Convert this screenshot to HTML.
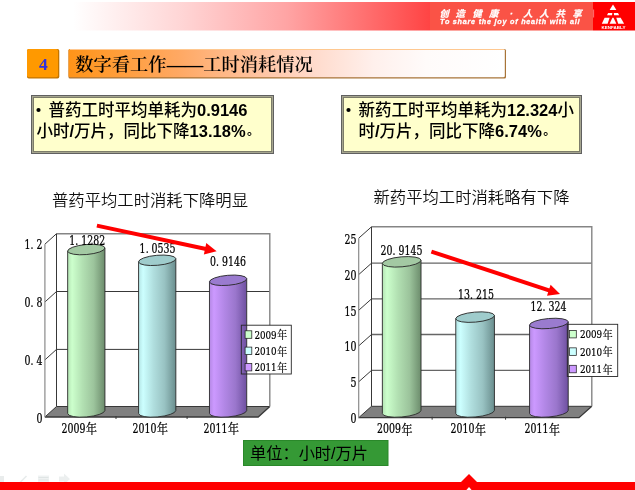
<!DOCTYPE html>
<html><head><meta charset="utf-8">
<style>
html,body{margin:0;padding:0;background:#fff;}
body{width:635px;height:490px;overflow:hidden;position:relative;}
svg{position:absolute;left:0;top:0;}
.cn{font-family:"Liberation Sans","Noto Sans CJK SC",sans-serif;}
.sr{font-family:"Liberation Serif","Noto Serif CJK SC",serif;}
.sm{font-family:"DejaVu Serif","Noto Serif CJK SC",serif;font-stretch:condensed;}
.sc{font-family:"Noto Serif CJK SC",serif;}
</style></head>
<body>
<svg width="635" height="490" viewBox="0 0 635 490">
<defs>
  <linearGradient id="hdr" x1="0" x2="1" y1="0" y2="0">
    <stop offset="0" stop-color="#ffffff"/>
    <stop offset="0.3" stop-color="#ffd6d6"/>
    <stop offset="0.6" stop-color="#ffa4a4"/>
    <stop offset="1" stop-color="#ff4444"/>
  </linearGradient>
  <linearGradient id="ttl" x1="0" x2="1" y1="0" y2="0">
    <stop offset="0" stop-color="#ff9418"/>
    <stop offset="0.25" stop-color="#ffa862"/>
    <stop offset="0.45" stop-color="#ffc6a6"/>
    <stop offset="0.56" stop-color="#ffdacb"/>
    <stop offset="0.7" stop-color="#fff0ec"/>
    <stop offset="0.82" stop-color="#fffbfa"/>
    <stop offset="1" stop-color="#ffffff"/>
  </linearGradient>
  <linearGradient id="g1" x1="0" x2="1" y1="0" y2="0">
    <stop offset="0" stop-color="#b4e4b4"/>
    <stop offset="0.12" stop-color="#ccffcc"/>
    <stop offset="0.4" stop-color="#b2e0b2"/>
    <stop offset="0.7" stop-color="#9cc49c"/>
    <stop offset="1" stop-color="#6c8c6c"/>
  </linearGradient>
  <linearGradient id="g2" x1="0" x2="1" y1="0" y2="0">
    <stop offset="0" stop-color="#b4e4e4"/>
    <stop offset="0.12" stop-color="#ccffff"/>
    <stop offset="0.4" stop-color="#b0dede"/>
    <stop offset="0.7" stop-color="#98c2c2"/>
    <stop offset="1" stop-color="#6a8e8e"/>
  </linearGradient>
  <linearGradient id="g3" x1="0" x2="1" y1="0" y2="0">
    <stop offset="0" stop-color="#b488e4"/>
    <stop offset="0.12" stop-color="#cc99ff"/>
    <stop offset="0.4" stop-color="#b287e6"/>
    <stop offset="0.7" stop-color="#9a76cc"/>
    <stop offset="1" stop-color="#6e50a0"/>
  </linearGradient>
</defs>

<!-- header band -->
<rect x="73" y="2" width="357" height="28.5" fill="url(#hdr)"/>
<rect x="430" y="2" width="163" height="28.5" fill="#fa5346"/>
<rect x="593" y="2" width="42" height="28.5" fill="#ff0000"/>
<rect x="593.2" y="9.5" width="0.9" height="8" fill="#fff" opacity="0.5"/>
<text y="17.2" fill="#fff" stroke="#fff" stroke-width="0.25" font-size="9.3" font-style="italic" font-weight="bold" class="cn"><tspan x="439.6">创</tspan><tspan x="455.6">造</tspan><tspan x="472.4">健</tspan><tspan x="489">康</tspan><tspan x="509.8">·</tspan><tspan x="523.2">人</tspan><tspan x="539.4">人</tspan><tspan x="555.4">共</tspan><tspan x="572.6">享</tspan></text>
<text x="440" y="24.3" fill="#fff" stroke="#fff" stroke-width="0.3" font-size="7.2" font-style="italic" font-weight="bold" class="cn" textLength="139.5" lengthAdjust="spacing">To share the joy of health with all</text>
<!-- logo -->
<g fill="#fff">
  <polygon points="613,4.6 616.4,10 609.6,10"/>
  <polygon points="608.1,12.9 612.3,12.9 612,15.2 607,15.2"/>
  <polygon points="613.8,12.9 618,12.9 619.1,15.2 614.1,15.2"/>
  <polygon points="604.6,17.8 609.6,17.8 607.6,23.8 601.8,23.8"/>
  <polygon points="612.4,17.8 613.5,17.8 616.4,23.8 609.6,23.8"/>
  <polygon points="616.3,17.8 620.7,17.8 624.1,23.8 618.2,23.8"/>
</g>
<text x="601.5" y="28.9" fill="#fff" font-size="4" class="cn" font-weight="bold" textLength="24" lengthAdjust="spacingAndGlyphs">KENFABLY</text>

<!-- number box -->
<rect x="27" y="49" width="32.3" height="29.6" rx="1.8" fill="#c27400"/>
<rect x="27" y="49" width="31" height="28.2" rx="1.8" fill="#ff9900"/>
<text x="43.3" y="69.8" fill="#3030dd" font-size="17.5" font-weight="bold" text-anchor="middle" class="sr">4</text>

<!-- title box -->
<rect x="68.5" y="49" width="437.5" height="29.4" rx="1.5" fill="#a87438"/>
<rect x="68.5" y="49" width="436.3" height="28.2" rx="1.5" fill="url(#ttl)"/>
<rect x="70" y="49" width="434" height="1" fill="#ffc890"/>
<text x="75.3" y="70.8" fill="#000" font-size="18" font-weight="600" class="sr" textLength="237.5" lengthAdjust="spacingAndGlyphs">数字看工作——工时消耗情况</text>

<!-- text boxes -->
<rect x="31.5" y="95.5" width="242" height="58" fill="#ffffcc" stroke="#606060" stroke-width="1"/>
<rect x="32.5" y="96.5" width="240" height="56" fill="none" stroke="#a6a690" stroke-width="1"/>
<rect x="33.5" y="97.5" width="238" height="54" fill="none" stroke="#7c7c6a" stroke-width="1"/>
<rect x="341.5" y="95.5" width="240" height="58" fill="#ffffcc" stroke="#606060" stroke-width="1"/>
<rect x="342.5" y="96.5" width="238" height="56" fill="none" stroke="#a6a690" stroke-width="1"/>
<rect x="343.5" y="97.5" width="236" height="54" fill="none" stroke="#7c7c6a" stroke-width="1"/>

<g class="cn" font-size="16.5" fill="#000" font-weight="500">
  <circle cx="38.5" cy="110" r="2.1" fill="#000"/>
  <text x="48.5" y="116.3">普药工时平均单耗为<tspan font-weight="bold">0.9146</tspan></text>
  <text x="36.5" y="136.8">小时<tspan font-weight="bold">/</tspan>万片，同比下降<tspan font-weight="bold">13.18%</tspan><tspan font-size="12.5" font-weight="bold" dx="1.4" dy="-1.8">。</tspan></text>
  <circle cx="348.5" cy="110" r="2.1" fill="#000"/>
  <text x="358.5" y="116.3">新药工时平均单耗为<tspan font-weight="bold">12.324</tspan>小</text>
  <text x="358.5" y="136.8">时<tspan font-weight="bold">/</tspan>万片，同比下降<tspan font-weight="bold">6.74%</tspan><tspan font-size="12.5" font-weight="bold" dx="1.4" dy="-1.8">。</tspan></text>
</g>

<!-- chart titles -->
<g class="cn" font-size="16" fill="#111" font-weight="350">
  <text x="52" y="205.9" textLength="196" lengthAdjust="spacingAndGlyphs">普药平均工时消耗下降明显</text>
  <text x="373.5" y="202.5" textLength="196" lengthAdjust="spacingAndGlyphs">新药平均工时消耗略有下降</text>
</g>

<!-- CHARTS -->
<polygon points="44.9,417.0 56.5,406.5 269.8,406.5 258.2,417.0" fill="#808080"/>
<polyline points="44.9,417.0 56.5,406.5 269.8,406.5" fill="none" stroke="#383838" stroke-width="1"/>
<polyline points="44.9,417.0 258.2,417.0 269.8,406.5" fill="none" stroke="#383838" stroke-width="1.3"/>
<line x1="56.5" y1="291.5" x2="269.8" y2="291.5" stroke="#383838" stroke-width="1"/>
<line x1="44.9" y1="302.0" x2="56.5" y2="291.5" stroke="#383838" stroke-width="1"/>
<line x1="56.5" y1="349.4" x2="269.8" y2="349.4" stroke="#383838" stroke-width="1"/>
<line x1="44.9" y1="359.9" x2="56.5" y2="349.4" stroke="#383838" stroke-width="1"/>
<line x1="44.9" y1="244.2" x2="56.5" y2="233.7" stroke="#383838" stroke-width="1"/>
<polyline points="56.5,233.7 269.8,233.7 269.8,406.5" fill="none" stroke="#858585" stroke-width="1.4"/>
<line x1="56.5" y1="233.7" x2="56.5" y2="406.5" stroke="#383838" stroke-width="1"/>
<line x1="44.9" y1="244.2" x2="44.9" y2="417.0" stroke="#8a8a8a" stroke-width="1.2"/>
<line x1="116.00" y1="416.0" x2="116.00" y2="419.0" stroke="#383838" stroke-width="1"/>
<line x1="187.10" y1="416.0" x2="187.10" y2="419.0" stroke="#383838" stroke-width="1"/>
<text transform="scale(0.87,1)" text-anchor="middle" class="sm" font-size="12.0" fill="#000" stroke="#000" stroke-width="0.22" ><tspan x="31.61" y="249.30">1</tspan><tspan x="36.90" y="249.30">.</tspan><tspan x="45.40" y="249.30">2</tspan></text>
<text transform="scale(0.87,1)" text-anchor="middle" class="sm" font-size="12.0" fill="#000" stroke="#000" stroke-width="0.22" ><tspan x="31.61" y="307.30">0</tspan><tspan x="36.90" y="307.30">.</tspan><tspan x="45.40" y="307.30">8</tspan></text>
<text transform="scale(0.87,1)" text-anchor="middle" class="sm" font-size="12.0" fill="#000" stroke="#000" stroke-width="0.22" ><tspan x="31.61" y="365.20">0</tspan><tspan x="36.90" y="365.20">.</tspan><tspan x="45.40" y="365.20">4</tspan></text>
<text transform="scale(0.87,1)" text-anchor="middle" class="sm" font-size="12.0" fill="#000" stroke="#000" stroke-width="0.22" ><tspan x="45.40" y="423.30">0</tspan></text>
<rect x="241.3" y="325.2" width="50" height="48.8" fill="#fff"/>
<path d="M67.67,251.05 L67.67,413.51 A18.70,5.0 -5 0 0 104.93,410.49 L104.93,248.03 Z" fill="url(#g1)" stroke="#2a2a2a" stroke-width="0.9"/>
<ellipse cx="86.30" cy="249.54" rx="18.70" ry="5.0" transform="rotate(-5 86.30 249.54)" fill="#a3c9a3" stroke="#2a2a2a" stroke-width="0.9"/>
<path d="M138.57,261.81 L138.57,413.51 A18.70,5.0 -5 0 0 175.83,410.49 L175.83,258.78 Z" fill="url(#g2)" stroke="#2a2a2a" stroke-width="0.9"/>
<ellipse cx="157.20" cy="260.30" rx="18.70" ry="5.0" transform="rotate(-5 157.20 260.30)" fill="#9fcccc" stroke="#2a2a2a" stroke-width="0.9"/>
<path d="M209.47,281.81 L209.47,413.51 A18.70,5.0 -5 0 0 246.73,410.49 L246.73,278.78 Z" fill="url(#g3)" stroke="#2a2a2a" stroke-width="0.9"/>
<ellipse cx="228.10" cy="280.30" rx="18.70" ry="5.0" transform="rotate(-5 228.10 280.30)" fill="#9a7bcf" stroke="#2a2a2a" stroke-width="0.9"/>
<text transform="scale(0.87,1)" text-anchor="middle" class="sm" font-size="12.0" fill="#000" stroke="#000" stroke-width="0.22" ><tspan x="82.99" y="244.60">1</tspan><tspan x="88.28" y="244.60">.</tspan><tspan x="96.78" y="244.60">1</tspan><tspan x="103.68" y="244.60">2</tspan><tspan x="110.57" y="244.60">8</tspan><tspan x="117.47" y="244.60">2</tspan></text>
<text transform="scale(0.87,1)" text-anchor="middle" class="sm" font-size="12.0" fill="#000" stroke="#000" stroke-width="0.22" ><tspan x="74.14" y="432.60">2</tspan><tspan x="81.03" y="432.60">0</tspan><tspan x="87.93" y="432.60">0</tspan><tspan x="94.83" y="432.60">9</tspan><tspan x="105.17" y="433.30" font-size="12.6" class="sc">年</tspan></text>
<text transform="scale(0.87,1)" text-anchor="middle" class="sm" font-size="12.0" fill="#000" stroke="#000" stroke-width="0.22" ><tspan x="163.91" y="253.20">1</tspan><tspan x="169.20" y="253.20">.</tspan><tspan x="177.70" y="253.20">0</tspan><tspan x="184.60" y="253.20">5</tspan><tspan x="191.49" y="253.20">3</tspan><tspan x="198.39" y="253.20">5</tspan></text>
<text transform="scale(0.87,1)" text-anchor="middle" class="sm" font-size="12.0" fill="#000" stroke="#000" stroke-width="0.22" ><tspan x="155.75" y="432.60">2</tspan><tspan x="162.64" y="432.60">0</tspan><tspan x="169.54" y="432.60">1</tspan><tspan x="176.44" y="432.60">0</tspan><tspan x="186.78" y="433.30" font-size="12.6" class="sc">年</tspan></text>
<text transform="scale(0.87,1)" text-anchor="middle" class="sm" font-size="12.0" fill="#000" stroke="#000" stroke-width="0.22" ><tspan x="244.83" y="266.20">0</tspan><tspan x="250.11" y="266.20">.</tspan><tspan x="258.62" y="266.20">9</tspan><tspan x="265.52" y="266.20">1</tspan><tspan x="272.41" y="266.20">4</tspan><tspan x="279.31" y="266.20">6</tspan></text>
<text transform="scale(0.87,1)" text-anchor="middle" class="sm" font-size="12.0" fill="#000" stroke="#000" stroke-width="0.22" ><tspan x="237.36" y="432.60">2</tspan><tspan x="244.25" y="432.60">0</tspan><tspan x="251.15" y="432.60">1</tspan><tspan x="258.05" y="432.60">1</tspan><tspan x="268.39" y="433.30" font-size="12.6" class="sc">年</tspan></text>
<rect x="241.3" y="325.2" width="50" height="48.8" fill="none" stroke="#262626" stroke-width="0.9"/>
<rect x="245.10" y="330.80" width="6.7" height="7.5" fill="#ccffcc" stroke="#222" stroke-width="0.75"/>
<text transform="scale(0.87,1)" text-anchor="middle" class="sm" font-size="11.2" fill="#000" stroke="#000" stroke-width="0.2"><tspan x="295.80" y="338.90">2</tspan><tspan x="302.13" y="338.90">0</tspan><tspan x="308.45" y="338.90">0</tspan><tspan x="314.77" y="338.90">9</tspan><tspan x="324.25" y="339.40" font-size="11.4" class="sc">年</tspan></text>
<rect x="245.10" y="347.10" width="6.7" height="7.5" fill="#ccffff" stroke="#222" stroke-width="0.75"/>
<text transform="scale(0.87,1)" text-anchor="middle" class="sm" font-size="11.2" fill="#000" stroke="#000" stroke-width="0.2"><tspan x="295.80" y="355.20">2</tspan><tspan x="302.13" y="355.20">0</tspan><tspan x="308.45" y="355.20">1</tspan><tspan x="314.77" y="355.20">0</tspan><tspan x="324.25" y="355.70" font-size="11.4" class="sc">年</tspan></text>
<rect x="245.10" y="363.40" width="6.7" height="7.5" fill="#cc99ff" stroke="#222" stroke-width="0.75"/>
<text transform="scale(0.87,1)" text-anchor="middle" class="sm" font-size="11.2" fill="#000" stroke="#000" stroke-width="0.2"><tspan x="295.80" y="371.50">2</tspan><tspan x="302.13" y="371.50">0</tspan><tspan x="308.45" y="371.50">1</tspan><tspan x="314.77" y="371.50">1</tspan><tspan x="324.25" y="372.00" font-size="11.4" class="sc">年</tspan></text>
<line x1="96.9" y1="225.6" x2="206.04" y2="248.94" stroke="#ff0000" stroke-width="4"/>
<polygon points="216.6,251.2 203.85,254.40 206.27,243.06" fill="#ff0000"/>
<polygon points="358.7,417.7 371.5,406.3 591.8,406.3 579.0,417.7" fill="#808080"/>
<polyline points="358.7,417.7 371.5,406.3 591.8,406.3" fill="none" stroke="#383838" stroke-width="1"/>
<polyline points="358.7,417.7 579.0,417.7 591.8,406.3" fill="none" stroke="#383838" stroke-width="1.3"/>
<line x1="371.5" y1="263.2" x2="591.8" y2="263.2" stroke="#666" stroke-width="1.3"/>
<line x1="358.7" y1="274.59999999999997" x2="371.5" y2="263.2" stroke="#383838" stroke-width="1"/>
<line x1="371.5" y1="298.9" x2="591.8" y2="298.9" stroke="#666" stroke-width="1.3"/>
<line x1="358.7" y1="310.29999999999995" x2="371.5" y2="298.9" stroke="#383838" stroke-width="1"/>
<line x1="371.5" y1="334.5" x2="591.8" y2="334.5" stroke="#666" stroke-width="1.3"/>
<line x1="358.7" y1="345.9" x2="371.5" y2="334.5" stroke="#383838" stroke-width="1"/>
<line x1="371.5" y1="370.4" x2="591.8" y2="370.4" stroke="#666" stroke-width="1.3"/>
<line x1="358.7" y1="381.79999999999995" x2="371.5" y2="370.4" stroke="#383838" stroke-width="1"/>
<line x1="358.7" y1="238.20000000000002" x2="371.5" y2="226.8" stroke="#383838" stroke-width="1"/>
<polyline points="371.5,226.8 591.8,226.8 591.8,406.3" fill="none" stroke="#858585" stroke-width="1.4"/>
<line x1="371.5" y1="226.8" x2="371.5" y2="406.3" stroke="#383838" stroke-width="1"/>
<line x1="358.7" y1="238.20000000000002" x2="358.7" y2="417.7" stroke="#8a8a8a" stroke-width="1.2"/>
<line x1="432.13" y1="416.7" x2="432.13" y2="419.7" stroke="#383838" stroke-width="1"/>
<line x1="505.57" y1="416.7" x2="505.57" y2="419.7" stroke="#383838" stroke-width="1"/>
<text transform="scale(0.87,1)" text-anchor="middle" class="sm" font-size="12.0" fill="#000" stroke="#000" stroke-width="0.22" ><tspan x="399.43" y="244.30">2</tspan><tspan x="406.32" y="244.30">5</tspan></text>
<text transform="scale(0.87,1)" text-anchor="middle" class="sm" font-size="12.0" fill="#000" stroke="#000" stroke-width="0.22" ><tspan x="399.43" y="280.00">2</tspan><tspan x="406.32" y="280.00">0</tspan></text>
<text transform="scale(0.87,1)" text-anchor="middle" class="sm" font-size="12.0" fill="#000" stroke="#000" stroke-width="0.22" ><tspan x="399.43" y="315.70">1</tspan><tspan x="406.32" y="315.70">5</tspan></text>
<text transform="scale(0.87,1)" text-anchor="middle" class="sm" font-size="12.0" fill="#000" stroke="#000" stroke-width="0.22" ><tspan x="399.43" y="351.50">1</tspan><tspan x="406.32" y="351.50">0</tspan></text>
<text transform="scale(0.87,1)" text-anchor="middle" class="sm" font-size="12.0" fill="#000" stroke="#000" stroke-width="0.22" ><tspan x="406.32" y="387.20">5</tspan></text>
<text transform="scale(0.87,1)" text-anchor="middle" class="sm" font-size="12.0" fill="#000" stroke="#000" stroke-width="0.22" ><tspan x="406.32" y="422.90">0</tspan></text>
<rect x="567.3" y="324.3" width="50.4" height="52.2" fill="#fff"/>
<path d="M382.37,263.41 L382.37,413.58 A19.40,5.0 -5 0 0 421.03,410.42 L421.03,260.26 Z" fill="url(#g1)" stroke="#2a2a2a" stroke-width="0.9"/>
<ellipse cx="401.70" cy="261.83" rx="19.40" ry="5.0" transform="rotate(-5 401.70 261.83)" fill="#a3c9a3" stroke="#2a2a2a" stroke-width="0.9"/>
<path d="M455.77,318.69 L455.77,413.58 A19.40,5.0 -5 0 0 494.43,410.42 L494.43,315.54 Z" fill="url(#g2)" stroke="#2a2a2a" stroke-width="0.9"/>
<ellipse cx="475.10" cy="317.12" rx="19.40" ry="5.0" transform="rotate(-5 475.10 317.12)" fill="#9fcccc" stroke="#2a2a2a" stroke-width="0.9"/>
<path d="M529.57,325.09 L529.57,413.58 A19.40,5.0 -5 0 0 568.23,410.42 L568.23,321.94 Z" fill="url(#g3)" stroke="#2a2a2a" stroke-width="0.9"/>
<ellipse cx="548.90" cy="323.51" rx="19.40" ry="5.0" transform="rotate(-5 548.90 323.51)" fill="#9a7bcf" stroke="#2a2a2a" stroke-width="0.9"/>
<text transform="scale(0.87,1)" text-anchor="middle" class="sm" font-size="12.0" fill="#000" stroke="#000" stroke-width="0.22" ><tspan x="440.80" y="254.80">2</tspan><tspan x="447.70" y="254.80">0</tspan><tspan x="452.99" y="254.80">.</tspan><tspan x="461.49" y="254.80">9</tspan><tspan x="468.39" y="254.80">1</tspan><tspan x="475.29" y="254.80">4</tspan><tspan x="482.18" y="254.80">5</tspan></text>
<text transform="scale(0.87,1)" text-anchor="middle" class="sm" font-size="12.0" fill="#000" stroke="#000" stroke-width="0.22" ><tspan x="436.78" y="433.00">2</tspan><tspan x="443.68" y="433.00">0</tspan><tspan x="450.57" y="433.00">0</tspan><tspan x="457.47" y="433.00">9</tspan><tspan x="467.82" y="433.70" font-size="12.6" class="sc">年</tspan></text>
<text transform="scale(0.87,1)" text-anchor="middle" class="sm" font-size="12.0" fill="#000" stroke="#000" stroke-width="0.22" ><tspan x="529.89" y="298.90">1</tspan><tspan x="536.78" y="298.90">3</tspan><tspan x="542.07" y="298.90">.</tspan><tspan x="550.57" y="298.90">2</tspan><tspan x="557.47" y="298.90">1</tspan><tspan x="564.37" y="298.90">5</tspan></text>
<text transform="scale(0.87,1)" text-anchor="middle" class="sm" font-size="12.0" fill="#000" stroke="#000" stroke-width="0.22" ><tspan x="521.26" y="433.00">2</tspan><tspan x="528.16" y="433.00">0</tspan><tspan x="535.06" y="433.00">1</tspan><tspan x="541.95" y="433.00">0</tspan><tspan x="552.30" y="433.70" font-size="12.6" class="sc">年</tspan></text>
<text transform="scale(0.87,1)" text-anchor="middle" class="sm" font-size="12.0" fill="#000" stroke="#000" stroke-width="0.22" ><tspan x="613.22" y="311.50">1</tspan><tspan x="620.11" y="311.50">2</tspan><tspan x="625.40" y="311.50">.</tspan><tspan x="633.91" y="311.50">3</tspan><tspan x="640.80" y="311.50">2</tspan><tspan x="647.70" y="311.50">4</tspan></text>
<text transform="scale(0.87,1)" text-anchor="middle" class="sm" font-size="12.0" fill="#000" stroke="#000" stroke-width="0.22" ><tspan x="606.32" y="433.00">2</tspan><tspan x="613.22" y="433.00">0</tspan><tspan x="620.11" y="433.00">1</tspan><tspan x="627.01" y="433.00">1</tspan><tspan x="637.36" y="433.70" font-size="12.6" class="sc">年</tspan></text>
<rect x="567.3" y="324.3" width="50.4" height="52.2" fill="none" stroke="#262626" stroke-width="0.9"/>
<rect x="569.60" y="330.40" width="6.7" height="7.5" fill="#ccffcc" stroke="#222" stroke-width="0.75"/>
<text transform="scale(0.87,1)" text-anchor="middle" class="sm" font-size="11.2" fill="#000" stroke="#000" stroke-width="0.2"><tspan x="669.94" y="338.50">2</tspan><tspan x="676.26" y="338.50">0</tspan><tspan x="682.59" y="338.50">0</tspan><tspan x="688.91" y="338.50">9</tspan><tspan x="698.39" y="339.00" font-size="11.4" class="sc">年</tspan></text>
<rect x="569.60" y="347.85" width="6.7" height="7.5" fill="#ccffff" stroke="#222" stroke-width="0.75"/>
<text transform="scale(0.87,1)" text-anchor="middle" class="sm" font-size="11.2" fill="#000" stroke="#000" stroke-width="0.2"><tspan x="669.94" y="355.95">2</tspan><tspan x="676.26" y="355.95">0</tspan><tspan x="682.59" y="355.95">1</tspan><tspan x="688.91" y="355.95">0</tspan><tspan x="698.39" y="356.45" font-size="11.4" class="sc">年</tspan></text>
<rect x="569.60" y="365.30" width="6.7" height="7.5" fill="#cc99ff" stroke="#222" stroke-width="0.75"/>
<text transform="scale(0.87,1)" text-anchor="middle" class="sm" font-size="11.2" fill="#000" stroke="#000" stroke-width="0.2"><tspan x="669.94" y="373.40">2</tspan><tspan x="676.26" y="373.40">0</tspan><tspan x="682.59" y="373.40">1</tspan><tspan x="688.91" y="373.40">1</tspan><tspan x="698.39" y="373.90" font-size="11.4" class="sc">年</tspan></text>
<line x1="431.4" y1="251.6" x2="549.74" y2="290.53" stroke="#ff0000" stroke-width="4"/>
<polygon points="560,293.9 546.98,295.72 550.60,284.70" fill="#ff0000"/>
<!-- /CHARTS -->

<!-- unit box -->
<rect x="243.5" y="440.5" width="144.5" height="25" fill="#359935" stroke="#2a882a" stroke-width="1"/>
<text x="250" y="459" font-size="16" class="cn" fill="#000" textLength="118" lengthAdjust="spacingAndGlyphs">单位：小时/万片</text>

<!-- faint slideshow controls -->
<g opacity="0.55">
  <rect x="-1" y="476" width="5" height="6" fill="#d8dede"/>
  <line x1="17.5" y1="485" x2="26.5" y2="476" stroke="#d4dcdc" stroke-width="1.6"/>
  <rect x="38" y="475.5" width="11" height="8" fill="#e2e8e8"/>
  <line x1="38.5" y1="477.5" x2="48.5" y2="477.5" stroke="#c8d0d0" stroke-width="1"/>
  <line x1="38.5" y1="480" x2="48.5" y2="480" stroke="#c8d0d0" stroke-width="1"/>
  <line x1="38.5" y1="482.5" x2="48.5" y2="482.5" stroke="#c8d0d0" stroke-width="1"/>
  <polygon points="59,476.5 64,476.5 64,473.5 70,479 64,484.5 64,481.5 59,481.5" fill="#dde3e3"/>
</g>

<!-- bottom bar -->
<polygon points="0,482 461,482 469,474 477,482 635,482 635,490 0,490" fill="#ff0000"/>
<polygon points="469,487 471.6,490 466.4,490" fill="#fff"/>

</svg>
</body></html>
